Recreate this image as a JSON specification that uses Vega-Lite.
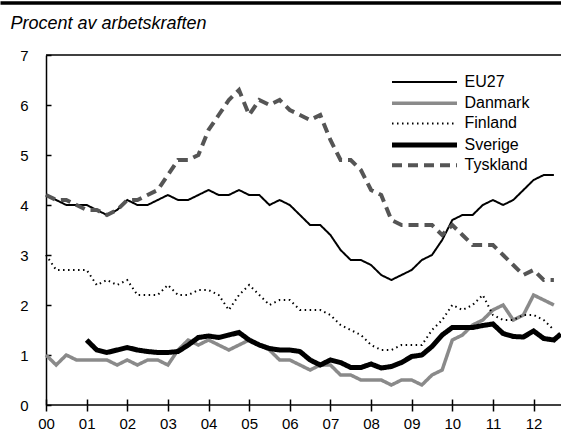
{
  "$schema": "https://vega.github.io/schema/vega-lite/v6.json",
  "width": 561,
  "height": 350,
  "autosize": {"type": "none"},
  "padding": {"left": 0, "top": 55, "right": 0, "bottom": 30},
  "background": "white",
  "config": {
    "view": {"stroke": null},
    "font": "Liberation Sans, Arial, sans-serif",
    "legend": {
      "orient": "none", "legendX": 389.5, "legendY": 19, "title": null,
      "symbolType": "M-1,0H9", "symbolSize": 169, "labelFontSize": 16,
      "labelOffset": 57, "rowPadding": 0.7, "labelColor": "black", "labelAlign": "left",
      "columns": 1, "gridAlign": "all"
    }
  },
  "layer": [
    {
      "data": {
        "values": [
          {"t": 2000, "EU27": 4.2, "Danmark": 1.0, "Finland": 3.0, "Sverige": null, "Tyskland": 4.2},
          {"t": 2000.25, "EU27": 4.1, "Danmark": 0.8, "Finland": 2.7, "Sverige": null, "Tyskland": 4.1},
          {"t": 2000.5, "EU27": 4.0, "Danmark": 1.0, "Finland": 2.7, "Sverige": null, "Tyskland": 4.1},
          {"t": 2000.75, "EU27": 4.0, "Danmark": 0.9, "Finland": 2.7, "Sverige": null, "Tyskland": 4.0},
          {"t": 2001, "EU27": 4.0, "Danmark": 0.9, "Finland": 2.7, "Sverige": 1.3, "Tyskland": 3.9},
          {"t": 2001.25, "EU27": 3.9, "Danmark": 0.9, "Finland": 2.4, "Sverige": 1.1, "Tyskland": 3.9},
          {"t": 2001.5, "EU27": 3.8, "Danmark": 0.9, "Finland": 2.5, "Sverige": 1.05, "Tyskland": 3.8},
          {"t": 2001.75, "EU27": 3.9, "Danmark": 0.8, "Finland": 2.4, "Sverige": 1.1, "Tyskland": 3.9},
          {"t": 2002, "EU27": 4.1, "Danmark": 0.9, "Finland": 2.5, "Sverige": 1.15, "Tyskland": 4.1},
          {"t": 2002.25, "EU27": 4.0, "Danmark": 0.8, "Finland": 2.2, "Sverige": 1.1, "Tyskland": 4.1},
          {"t": 2002.5, "EU27": 4.0, "Danmark": 0.9, "Finland": 2.2, "Sverige": 1.07, "Tyskland": 4.2},
          {"t": 2002.75, "EU27": 4.1, "Danmark": 0.9, "Finland": 2.2, "Sverige": 1.05, "Tyskland": 4.3},
          {"t": 2003, "EU27": 4.2, "Danmark": 0.8, "Finland": 2.4, "Sverige": 1.05, "Tyskland": 4.6},
          {"t": 2003.25, "EU27": 4.1, "Danmark": 1.1, "Finland": 2.2, "Sverige": 1.07, "Tyskland": 4.9},
          {"t": 2003.5, "EU27": 4.1, "Danmark": 1.3, "Finland": 2.2, "Sverige": 1.2, "Tyskland": 4.9},
          {"t": 2003.75, "EU27": 4.2, "Danmark": 1.2, "Finland": 2.3, "Sverige": 1.35, "Tyskland": 5.0},
          {"t": 2004, "EU27": 4.3, "Danmark": 1.3, "Finland": 2.3, "Sverige": 1.38, "Tyskland": 5.5},
          {"t": 2004.25, "EU27": 4.2, "Danmark": 1.2, "Finland": 2.2, "Sverige": 1.35, "Tyskland": 5.8},
          {"t": 2004.5, "EU27": 4.2, "Danmark": 1.1, "Finland": 1.9, "Sverige": 1.4, "Tyskland": 6.1},
          {"t": 2004.75, "EU27": 4.3, "Danmark": 1.2, "Finland": 2.2, "Sverige": 1.45, "Tyskland": 6.3},
          {"t": 2005, "EU27": 4.2, "Danmark": 1.3, "Finland": 2.4, "Sverige": 1.3, "Tyskland": 5.8},
          {"t": 2005.25, "EU27": 4.2, "Danmark": 1.2, "Finland": 2.2, "Sverige": 1.2, "Tyskland": 6.1},
          {"t": 2005.5, "EU27": 4.0, "Danmark": 1.1, "Finland": 2.0, "Sverige": 1.13, "Tyskland": 6.0},
          {"t": 2005.75, "EU27": 4.1, "Danmark": 0.9, "Finland": 2.1, "Sverige": 1.1, "Tyskland": 6.1},
          {"t": 2006, "EU27": 4.0, "Danmark": 0.9, "Finland": 2.1, "Sverige": 1.1, "Tyskland": 5.9},
          {"t": 2006.25, "EU27": 3.8, "Danmark": 0.8, "Finland": 1.9, "Sverige": 1.07, "Tyskland": 5.8},
          {"t": 2006.5, "EU27": 3.6, "Danmark": 0.7, "Finland": 1.9, "Sverige": 0.9, "Tyskland": 5.7},
          {"t": 2006.75, "EU27": 3.6, "Danmark": 0.8, "Finland": 1.9, "Sverige": 0.8, "Tyskland": 5.8},
          {"t": 2007, "EU27": 3.4, "Danmark": 0.8, "Finland": 1.8, "Sverige": 0.9, "Tyskland": 5.3},
          {"t": 2007.25, "EU27": 3.1, "Danmark": 0.6, "Finland": 1.6, "Sverige": 0.85, "Tyskland": 4.9},
          {"t": 2007.5, "EU27": 2.9, "Danmark": 0.6, "Finland": 1.5, "Sverige": 0.75, "Tyskland": 4.9},
          {"t": 2007.75, "EU27": 2.9, "Danmark": 0.5, "Finland": 1.4, "Sverige": 0.75, "Tyskland": 4.7},
          {"t": 2008, "EU27": 2.8, "Danmark": 0.5, "Finland": 1.2, "Sverige": 0.82, "Tyskland": 4.3},
          {"t": 2008.25, "EU27": 2.6, "Danmark": 0.5, "Finland": 1.1, "Sverige": 0.74, "Tyskland": 4.2},
          {"t": 2008.5, "EU27": 2.5, "Danmark": 0.4, "Finland": 1.1, "Sverige": 0.77, "Tyskland": 3.7},
          {"t": 2008.75, "EU27": 2.6, "Danmark": 0.5, "Finland": 1.2, "Sverige": 0.85, "Tyskland": 3.6},
          {"t": 2009, "EU27": 2.7, "Danmark": 0.5, "Finland": 1.2, "Sverige": 0.97, "Tyskland": 3.6},
          {"t": 2009.25, "EU27": 2.9, "Danmark": 0.4, "Finland": 1.2, "Sverige": 1.0, "Tyskland": 3.6},
          {"t": 2009.5, "EU27": 3.0, "Danmark": 0.6, "Finland": 1.5, "Sverige": 1.17, "Tyskland": 3.6},
          {"t": 2009.75, "EU27": 3.3, "Danmark": 0.7, "Finland": 1.7, "Sverige": 1.4, "Tyskland": 3.4},
          {"t": 2010, "EU27": 3.7, "Danmark": 1.3, "Finland": 2.0, "Sverige": 1.55, "Tyskland": 3.6},
          {"t": 2010.25, "EU27": 3.8, "Danmark": 1.4, "Finland": 1.9, "Sverige": 1.55, "Tyskland": 3.4},
          {"t": 2010.5, "EU27": 3.8, "Danmark": 1.6, "Finland": 2.0, "Sverige": 1.55, "Tyskland": 3.2},
          {"t": 2010.75, "EU27": 4.0, "Danmark": 1.7, "Finland": 2.2, "Sverige": 1.59, "Tyskland": 3.2},
          {"t": 2011, "EU27": 4.1, "Danmark": 1.9, "Finland": 1.8, "Sverige": 1.62, "Tyskland": 3.2},
          {"t": 2011.25, "EU27": 4.0, "Danmark": 2.0, "Finland": 1.7, "Sverige": 1.43, "Tyskland": 3.0},
          {"t": 2011.5, "EU27": 4.1, "Danmark": 1.7, "Finland": 1.7, "Sverige": 1.37, "Tyskland": 2.8},
          {"t": 2011.75, "EU27": 4.3, "Danmark": 1.8, "Finland": 1.8, "Sverige": 1.36, "Tyskland": 2.6},
          {"t": 2012, "EU27": 4.5, "Danmark": 2.2, "Finland": 1.8, "Sverige": 1.48, "Tyskland": 2.7},
          {"t": 2012.25, "EU27": 4.6, "Danmark": 2.1, "Finland": 1.7, "Sverige": 1.33, "Tyskland": 2.5},
          {"t": 2012.5, "EU27": 4.6, "Danmark": 2.0, "Finland": 1.5, "Sverige": 1.3, "Tyskland": 2.5},
          {"t": 2012.67, "EU27": null, "Danmark": null, "Finland": null, "Sverige": 1.42, "Tyskland": null}
        ]
      },
      "transform": [
        {"fold": ["EU27", "Danmark", "Finland", "Sverige", "Tyskland"], "as": ["s", "v"]}
      ],
      "mark": {"type": "line", "strokeJoin": "miter"},
      "encoding": {
        "x": {
          "field": "t", "type": "quantitative",
          "scale": {"domain": [1998.868, 2012.675], "nice": false, "zero": false},
          "axis": {
            "orient": "bottom", "title": null, "grid": false, "domain": false,
            "values": [2000, 2001, 2002, 2003, 2004, 2005, 2006, 2007, 2008, 2009, 2010, 2011, 2012],
            "labelExpr": "format(datum.value % 100, '02d')",
            "tickSize": 6, "tickColor": "black", "tickWidth": 1.5,
            "labelFontSize": 15, "labelPadding": 5, "labelColor": "black"
          }
        },
        "y": {
          "field": "v", "type": "quantitative",
          "scale": {"domain": [0, 7], "nice": false},
          "axis": {
            "offset": -46, "values": [0, 1, 2, 3, 4, 5, 6, 7], "grid": false,
            "domainColor": "black", "domainWidth": 1.5,
            "tickSize": -5, "tickColor": "black", "tickWidth": 1.5,
            "labelPadding": 23, "labelFontSize": 15, "labelColor": "black",
            "title": "Procent av arbetskraften", "titleAngle": 0, "titleX": -36, "titleY": -27,
            "titleAlign": "left", "titleBaseline": "alphabetic",
            "titleFont": "Liberation Sans, Arial, sans-serif", "titleFontStyle": "italic",
            "titleFontWeight": "normal", "titleFontSize": 18, "titleColor": "black"
          }
        },
        "color": {
          "field": "s", "type": "nominal",
          "scale": {"domain": ["EU27", "Danmark", "Finland", "Sverige", "Tyskland"], "range": ["#000000", "#8a8a8a", "#000000", "#000000", "#555555"]}
        },
        "strokeDash": {
          "field": "s", "type": "nominal",
          "scale": {"domain": ["EU27", "Danmark", "Finland", "Sverige", "Tyskland"], "range": [[1, 0], [1, 0], [1.5, 3.5], [1, 0], [10, 6]]}
        },
        "strokeWidth": {
          "field": "s", "type": "nominal",
          "scale": {"type": "ordinal", "domain": ["EU27", "Danmark", "Finland", "Sverige", "Tyskland"], "range": [2, 3.5, 2, 5, 4]}
        }
      }
    },
    {
      "data": {"values": [{}]},
      "mark": {"type": "rule", "color": "black", "strokeWidth": 1.5},
      "encoding": {
        "x": {
          "datum": 2000, "type": "quantitative",
          "axis": {"orient": "bottom", "domain": false, "labels": false, "grid": false, "title": null,
                   "values": [2000, 2001, 2002, 2003, 2004, 2005, 2006, 2007, 2008, 2009, 2010, 2011, 2012],
                   "tickSize": -6, "tickColor": "black", "tickWidth": 1.5}
        },
        "x2": {"datum": 2012.675},
        "y": {"datum": 0, "type": "quantitative"}
      }
    },
    {
      "data": {"values": [{}]},
      "mark": {"type": "rule", "color": "black", "strokeWidth": 1.5},
      "encoding": {
        "x": {
          "datum": 2000, "type": "quantitative",
          "axis": {"orient": "top", "offset": 52.5, "domain": true, "domainWidth": 3.5, "domainColor": "black", "ticks": false, "labels": false, "grid": false, "title": null}
        },
        "x2": {"datum": 2012.675},
        "y": {"datum": 7, "type": "quantitative"}
      }
    }
  ],
  "resolve": {"axis": {"x": "independent"}}
}
